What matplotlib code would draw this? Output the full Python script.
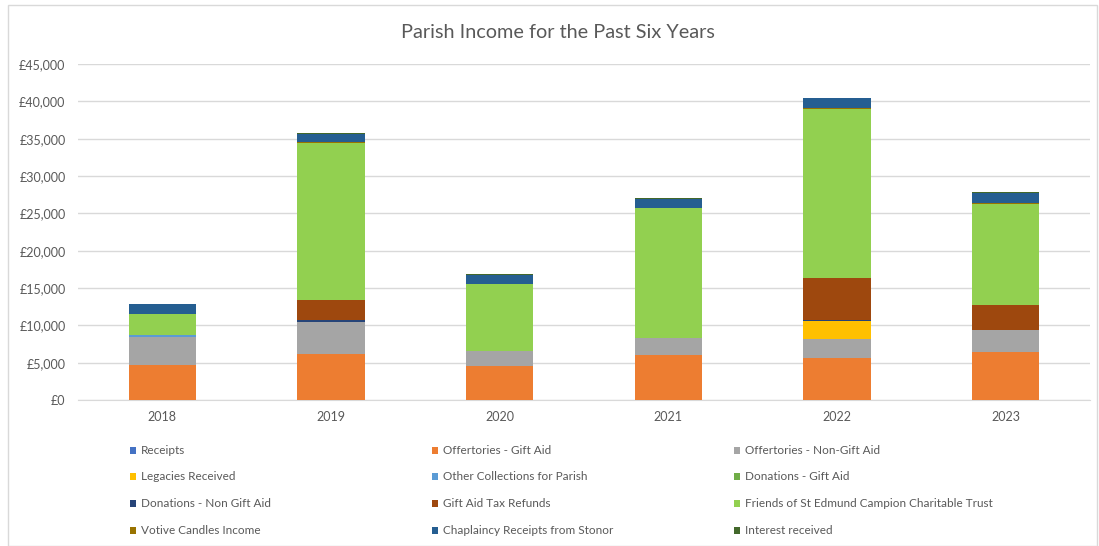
import matplotlib
matplotlib.use("Agg")
import matplotlib.pyplot as plt
from matplotlib.patches import Rectangle
import numpy as np

years = ["2018", "2019", "2020", "2021", "2022", "2023"]
receipts = [0, 0, 0, 0, 0, 0]
offertories_ga = [4700, 6100, 4600, 6000, 5600, 6400]
offertories_nga = [3800, 4350, 1950, 2300, 2600, 3000]
legacies = [0, 0, 0, 0, 2400, 0]
other_collections = [150, 0, 0, 0, 0, 0]
donations_ga = [0, 0, 0, 0, 0, 0]
donations_nga = [0, 200, 0, 0, 150, 0]
gift_aid_refunds = [0, 2700, 0, 0, 5600, 3350]
friends = [2900, 21050, 8950, 17450, 22600, 13500]
votive = [0, 100, 0, 0, 200, 150]
chaplaincy = [1250, 1150, 1300, 1200, 1300, 1350]
interest = [100, 50, 100, 80, 50, 50]

series_names = ["Receipts", "Offertories - Gift Aid", "Offertories - Non-Gift Aid",
                "Legacies Received", "Other Collections for Parish", "Donations - Gift Aid",
                "Donations - Non Gift Aid", "Gift Aid Tax Refunds",
                "Friends of St Edmund Campion Charitable Trust",
                "Votive Candles Income", "Chaplaincy Receipts from Stonor", "Interest received"]
series_values = [receipts, offertories_ga, offertories_nga, legacies, other_collections,
                 donations_ga, donations_nga, gift_aid_refunds, friends, votive,
                 chaplaincy, interest]
colors = ["#4472C4", "#ED7D31", "#A5A5A5", "#FFC000", "#5B9BD5", "#70AD47",
          "#264478", "#9E480E", "#92D050", "#997300", "#255E91", "#43682B"]

W, H = 1099, 546
font = "Lato"
plt.rcParams['font.family'] = [font, 'DejaVu Sans']

fig = plt.figure(figsize=(W/100, H/100), dpi=100)
ax = fig.add_axes([78/W, 1-400/H, (1090-78)/W, (400-64)/H])

x = np.arange(len(years))
bottom = np.zeros(len(years))
for name, vals, c in zip(series_names, series_values, colors):
    v = np.array(vals, dtype=float)
    ax.bar(x, v, 0.4, bottom=bottom, color=c, linewidth=0, zorder=3, label=name)
    bottom += v

ax.set_xlim(-0.5, len(years)-0.5)
ax.set_ylim(0, 45000)
ax.set_yticks(np.arange(0, 45001, 5000))
ax.set_yticklabels([f"£{int(t):,}" for t in np.arange(0, 45001, 5000)])
ax.set_xticks(x)
ax.set_xticklabels(years)
ax.grid(axis='y', color='#D9D9D9', linewidth=1, zorder=0)
for s in ['top', 'right', 'left']:
    ax.spines[s].set_visible(False)
ax.spines['bottom'].set_color('#D9D9D9')
ax.tick_params(axis='both', length=0, colors='#595959', labelsize=9)
ax.tick_params(axis='y', pad=9)
ax.tick_params(axis='x', pad=8)

fig.text(558/W, 1-32/H, "Parish Income for the Past Six Years", ha='center', va='center',
         fontsize=14.3, color='#595959')

# outer chart border
fig.patches.append(Rectangle((8/W, 0), (1097-8)/W, 1-5/H, transform=fig.transFigure,
                             fill=False, edgecolor='#D9D9D9', linewidth=1))

# legend (row-major, 3 columns)
for i, (name, c) in enumerate(zip(series_names, colors)):
    row, col = i // 3, i % 3
    px = 130 + col * 302
    py = 450 + row * 26.7
    fig.patches.append(Rectangle((px/W, 1-(py+3.5)/H), 6/W, 7/H, transform=fig.transFigure,
                                 facecolor=c, edgecolor='none'))
    fig.text((px+11)/W, 1-py/H, name, ha='left', va='center', fontsize=8.5, color='#595959')

fig.savefig("out.png", dpi=100)
